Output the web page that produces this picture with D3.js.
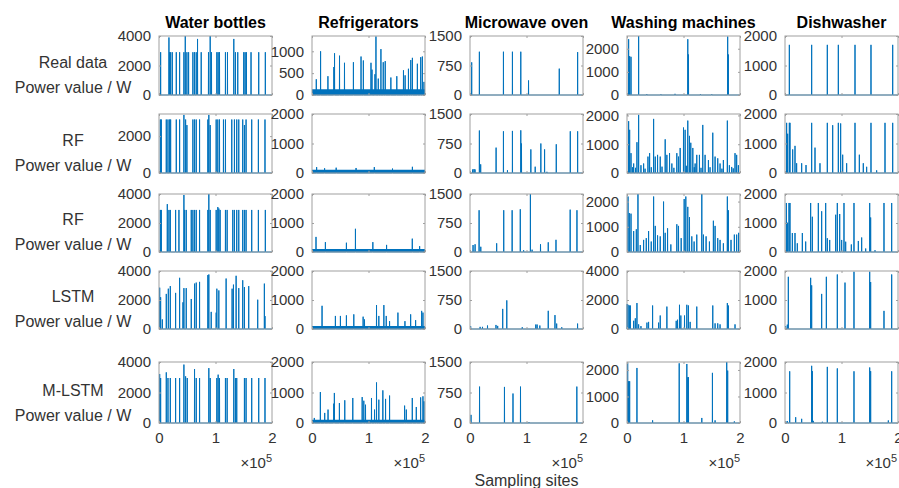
<!DOCTYPE html>
<html>
<head>
<meta charset="utf-8">
<script src="https://cdn.jsdelivr.net/npm/d3@7"></script>
<style>
  body { margin: 0; background: #fff; }
  text { font-family: "Liberation Sans", Arial, Helvetica, sans-serif; }
</style>
</head>
<body>
<div id="chart"></div>
<script>
// data: appliances (columns) and models (rows)
const APPLIANCES = ['Water bottles', 'Refrigerators', 'Microwave oven', 'Washing machines', 'Dishwasher'];
const MODELS = ['Real data', 'RF', 'RF', 'LSTM', 'M-LSTM'];
const X_TICKS = [0, 1, 2];   // sampling sites, x 10^5

// y axis upper limit per row / column
const Y_MAX = [
  [4000, 1350, 1500, 2550, 2000],
  [3200, 2000, 1500, 2050, 2000],
  [4000, 2000, 1500, 2300, 2000],
  [4000, 2000, 1500, 4000, 2000],
  [4000, 2000, 1500, 2300, 2000]
];
const Y_TICKS = [
  [[0, 2000, 4000], [0, 500, 1000], [0, 750, 1500], [0, 1000, 2000], [0, 1000, 2000]],
  [[0, 2000], [0, 1000, 2000], [0, 750, 1500], [0, 1000, 2000], [0, 1000, 2000]],
  [[0, 2000, 4000], [0, 1000, 2000], [0, 750, 1500], [0, 1000, 2000], [0, 1000, 2000]],
  [[0, 2000, 4000], [0, 1000, 2000], [0, 750, 1500], [0, 2000, 4000], [0, 1000, 2000]],
  [[0, 2000, 4000], [0, 1000, 2000], [0, 750, 1500], [0, 1000, 2000], [0, 1000, 2000]]
];
// dense standby level (refrigerator compressor band)
const BASE_LEVEL = [
  [0, 130, 0, 0, 0],
  [0, 110, 0, 0, 0],
  [0, 100, 0, 0, 0],
  [0, 100, 0, 0, 0],
  [0, 110, 0, 0, 0]
];

// spikes: [site x 10^5, power W]
const REAL_DATA = [
  [[0.029,2900],[0.176,3900],[0.188,2900],[0.206,2900],[0.235,2900],[0.306,2900],[0.365,2900],[0.441,2900],[0.465,4000],[0.494,2900],[0.524,2900],[0.6,2900],[0.629,2900],[0.659,2900],[0.682,3800],[0.747,2900],[0.876,2900],[0.906,4000],[0.929,2900],[1.024,2900],[1.047,2900],[1.071,2900],[1.176,2900],[1.212,2900],[1.324,3800],[1.353,2900],[1.394,2900],[1.5,2900],[1.524,2900],[1.547,2900],[1.629,2900],[1.765,2900],[1.882,2900]],
  [[0.076,360],[0.152,1000],[0.282,430],[0.387,640],[0.399,955],[0.487,900],[0.575,737],[0.733,750],[0.868,880],[0.909,790],[1.044,737],[1.062,580],[1.114,475],[1.132,1340],[1.173,375],[1.22,1050],[1.261,750],[1.296,775],[1.396,400],[1.501,430],[1.619,565],[1.648,450],[1.707,600],[1.748,800],[1.777,850],[1.865,715],[1.924,865],[1.953,880],[1.982,300]],
  [[0.03,830],[0.166,1100],[0.592,1100],[0.751,1100],[0.899,1100],[1.036,370],[1.58,670],[1.905,1090]],
  [[0.029,2410],[0.047,1680],[0.071,1650],[0.206,2550],[0.35,40],[0.6,30],[0.85,50],[1.076,2410],[1.088,1750],[1.3,40],[1.5,30],[1.782,2525],[1.794,1750]],
  [[0.077,1700],[0.472,1700],[0.749,1700],[0.944,1700],[1.239,1700],[1.522,1700],[1.906,1700]]
];
const RF_A = [
  [[0.024,2900],[0.041,2900],[0.129,2900],[0.159,2900],[0.188,2900],[0.206,2900],[0.306,2900],[0.365,2900],[0.441,3150],[0.471,2900],[0.494,2600],[0.6,2900],[0.629,2900],[0.659,2900],[0.718,2900],[0.865,2900],[0.882,3150],[0.906,2600],[1.012,2900],[1.041,2900],[1.071,2900],[1.141,2900],[1.176,2900],[1.288,2900],[1.335,2900],[1.376,2900],[1.412,2900],[1.482,2900],[1.512,2600],[1.541,2900],[1.641,2900],[1.759,2900],[1.876,2900]],
  [[0.082,200],[0.223,160],[0.428,180],[0.78,170],[1.103,200],[1.425,150],[1.777,210]],
  [[0.047,90],[0.071,100],[0.089,90],[0.166,1080],[0.189,220],[0.462,645],[0.592,1060],[0.663,70],[0.751,1070],[0.899,1085],[0.911,750],[1.077,600],[1.154,160],[1.254,750],[1.32,600],[1.361,30],[1.527,730],[1.775,1060],[1.905,1060]],
  [[0.029,1800],[0.047,1500],[0.071,690],[0.1,200],[0.118,330],[0.15,180],[0.176,1070],[0.206,2020],[0.247,270],[0.294,330],[0.32,150],[0.371,570],[0.4,690],[0.43,200],[0.471,1880],[0.5,570],[0.541,630],[0.588,570],[0.62,220],[0.676,1170],[0.706,630],[0.753,690],[0.794,330],[0.83,180],[0.882,690],[0.912,570],[0.941,870],[1.0,1580],[1.029,1500],[1.05,250],[1.076,1820],[1.106,1290],[1.129,1050],[1.165,870],[1.19,200],[1.206,330],[1.235,630],[1.282,630],[1.31,180],[1.341,1670],[1.382,630],[1.441,450],[1.47,200],[1.518,1400],[1.559,570],[1.606,510],[1.647,330],[1.68,150],[1.706,450],[1.776,1820],[1.812,270],[1.853,210],[1.88,160],[1.912,690],[1.941,630],[1.971,270]],
  [[0.029,1700],[0.047,1330],[0.077,1700],[0.088,1700],[0.136,800],[0.177,920],[0.206,330],[0.295,330],[0.372,270],[0.472,1700],[0.531,860],[0.619,330],[0.749,1700],[0.844,1620],[0.944,1700],[0.985,1680],[1.021,620],[1.091,330],[1.239,1700],[1.316,620],[1.386,330],[1.445,210],[1.522,1700],[1.622,90],[1.77,1700],[1.906,1700]]
];
const RF_B = [
  [[0.024,2900],[0.041,2900],[0.147,3300],[0.176,2900],[0.2,2900],[0.294,2900],[0.353,2900],[0.441,3930],[0.453,2900],[0.482,2900],[0.571,2900],[0.6,2900],[0.629,2900],[0.659,2900],[0.718,2900],[0.865,2900],[0.882,4000],[0.906,2900],[1.012,2900],[1.041,3100],[1.059,3000],[1.082,2900],[1.176,2900],[1.206,2900],[1.306,2900],[1.335,2900],[1.376,2900],[1.412,2900],[1.482,2900],[1.512,2900],[1.541,2900],[1.641,2900],[1.759,2900],[1.882,2900]],
  [[0.071,520],[0.237,340],[0.609,320],[0.769,800],[1.077,340],[1.32,245],[1.775,460],[1.905,200]],
  [[0.054,180],[0.09,200],[0.161,1080],[0.191,135],[0.472,225],[0.597,1080],[0.746,1080],[0.89,1105],[0.949,45],[1.069,1500],[1.099,60],[1.248,200],[1.385,250],[1.522,315],[1.773,1095],[1.893,1080]],
  [[0.018,2200],[0.041,1545],[0.071,1520],[0.118,830],[0.165,900],[0.194,2300],[0.235,275],[0.294,480],[0.341,550],[0.382,830],[0.429,415],[0.471,2200],[0.5,1035],[0.541,660],[0.588,620],[0.647,2000],[0.676,760],[0.718,940],[0.776,300],[0.882,1100],[0.912,1035],[0.959,550],[1.012,2100],[1.041,2200],[1.076,1790],[1.106,1380],[1.147,620],[1.188,415],[1.235,690],[1.324,2300],[1.353,690],[1.4,620],[1.459,415],[1.529,1240],[1.559,1035],[1.606,550],[1.647,480],[1.706,345],[1.776,2200],[1.794,1655],[1.841,480],[1.9,690],[1.941,690],[1.976,760]],
  [[0.024,1690],[0.047,1010],[0.071,1690],[0.088,1690],[0.13,655],[0.177,655],[0.218,300],[0.307,655],[0.366,360],[0.454,1690],[0.484,1215],[0.59,1690],[0.649,1405],[0.72,1690],[0.749,475],[0.791,415],[0.897,1285],[0.926,1690],[0.968,1310],[1.003,415],[1.044,1690],[1.074,355],[1.174,260],[1.221,1690],[1.298,380],[1.357,500],[1.428,120],[1.499,1690],[1.516,1190],[1.593,60],[1.752,1690],[1.888,1690]]
];
const LSTM = [
  [[0.012,2850],[0.029,2190],[0.059,660],[0.129,2420],[0.165,2780],[0.2,2960],[0.294,2490],[0.365,3530],[0.424,1840],[0.441,2820],[0.482,2820],[0.571,2070],[0.629,3130],[0.659,3200],[0.718,3250],[0.865,3720],[0.882,3760],[0.924,1180],[1.012,1130],[1.024,2780],[1.059,2660],[1.188,3480],[1.294,2780],[1.318,3060],[1.365,3670],[1.412,2820],[1.482,3360],[1.512,2890],[1.588,2960],[1.747,2020],[1.865,3130],[1.876,890]],
  [[0.178,800],[0.414,450],[0.503,450],[0.609,470],[0.74,505],[0.905,425],[0.929,330],[1.142,825],[1.183,450],[1.272,825],[1.314,450],[1.373,270],[1.521,565],[1.645,270],[1.746,505],[1.834,305],[1.941,625],[1.964,565]],
  [[0.012,70],[0.179,55],[0.221,55],[0.31,90],[0.46,105],[0.49,80],[0.579,520],[0.651,740],[0.925,45],[1.164,115],[1.188,115],[1.236,90],[1.385,470],[1.504,360],[1.534,140],[1.624,45],[1.904,140]],
  [[0.003,1720],[0.018,1670],[0.041,1620],[0.059,1620],[0.118,565],[0.147,735],[0.176,1790],[0.206,320],[0.247,200],[0.353,440],[0.382,490],[0.453,1620],[0.559,440],[0.588,930],[0.706,1545],[0.871,565],[0.894,640],[0.929,1670],[0.953,930],[1.018,930],[1.059,1670],[1.088,1620],[1.118,490],[1.235,1545],[1.518,1620],[1.559,390],[1.606,390],[1.647,320],[1.776,1790],[1.794,1620],[1.912,320]],
  [[0.012,95],[0.041,150],[0.059,1800],[0.454,1765],[0.472,1505],[0.649,1210],[0.732,1800],[0.926,1880],[1.062,1600],[1.221,1975],[1.499,1975],[1.516,1620],[1.752,625],[1.888,1880]]
];
const M_LSTM = [
  [[0.012,3210],[0.029,2950],[0.129,3320],[0.159,2950],[0.2,2950],[0.294,2950],[0.365,2950],[0.441,3830],[0.471,3060],[0.5,2950],[0.629,3540],[0.659,2950],[0.718,2950],[0.882,3600],[0.906,2950],[1.024,2950],[1.047,3170],[1.071,2950],[1.176,2950],[1.206,2950],[1.324,3540],[1.353,2950],[1.376,2950],[1.512,2950],[1.541,2950],[1.641,2950],[1.765,2950],[1.876,2950]],
  [[0.041,165],[0.148,1015],[0.225,330],[0.284,440],[0.385,635],[0.396,985],[0.485,655],[0.58,745],[0.722,820],[0.888,850],[0.917,730],[0.947,600],[1.053,820],[1.107,440],[1.142,1330],[1.183,765],[1.254,1070],[1.302,790],[1.373,900],[1.639,570],[1.669,440],[1.775,820],[1.846,525],[1.923,840],[1.964,875],[1.982,710]],
  [[0.018,200],[0.169,895],[0.61,887],[0.761,725],[0.894,895],[1.045,20],[1.891,895]],
  [[0.012,2290],[0.029,1575],[0.047,1575],[0.176,2075],[0.453,100],[0.924,2250],[1.059,2225],[1.076,1725],[1.088,1725],[1.324,190],[1.512,1890],[1.559,100],[1.765,2300],[1.782,1975],[1.9,60]],
  [[0.012,65],[0.041,65],[0.083,1695],[0.189,190],[0.295,137],[0.472,1875],[0.484,1700],[0.501,70],[0.661,40],[0.749,1840],[0.926,1790],[1.221,1695],[1.499,1820],[1.516,1700],[1.829,84],[1.888,1695]]
];
const SERIES = [REAL_DATA, RF_A, RF_B, LSTM, M_LSTM];

// layout
const FRAME_WIDTH = 899;
const FRAME_HEIGHT = 488;
const COL_X = [159, 312, 470, 627, 785];
const PANEL_W = 113;
const ROW_Y = [36, 114, 194, 271, 362];
const ROW_H = [59, 59, 58, 58, 61];
const LINE_COLOR = '#0072BD';
const BOX_COLOR = '#a0a0a0';
const TEXT_COLOR = '#333';
const HALF = 0.002;   // half width of one spike, x 10^5

let SVG = d3.select('#chart')
            .append('svg')
            .attr('width', FRAME_WIDTH)
            .attr('height', FRAME_HEIGHT);

// column titles
APPLIANCES.forEach((name, c) => {
  SVG.append('text')
     .attr('x', COL_X[c] + PANEL_W / 2)
     .attr('y', 28)
     .attr('text-anchor', 'middle')
     .attr('font-size', '16px')
     .attr('font-weight', 'bold')
     .attr('fill', '#000')
     .text(name);
});

// row labels
MODELS.forEach((name, r) => {
  SVG.append('text')
     .attr('x', 73)
     .attr('y', ROW_Y[r] + ROW_H[r] - 27)
     .attr('text-anchor', 'middle')
     .attr('font-size', '16px')
     .attr('fill', TEXT_COLOR)
     .text(name);
  SVG.append('text')
     .attr('x', 73)
     .attr('y', ROW_Y[r] + ROW_H[r] - 2)
     .attr('text-anchor', 'middle')
     .attr('font-size', '16px')
     .attr('fill', TEXT_COLOR)
     .text('Power value / W');
});

for (let r = 0; r < 5; r++) {
  for (let c = 0; c < 5; c++) {
    let x0 = COL_X[c], y0 = ROW_Y[r], h = ROW_H[r];
    let xScale = d3.scaleLinear().domain([0, 2]).range([x0, x0 + PANEL_W]);
    let yScale = d3.scaleLinear().domain([0, Y_MAX[r][c]]).range([y0 + h, y0]);
    let g = SVG.append('g');

    // dense standby band
    if (BASE_LEVEL[r][c] > 0) {
      g.append('path')
       .datum([[0, BASE_LEVEL[r][c]], [2, BASE_LEVEL[r][c]]])
       .attr('d', d3.area().x(d => xScale(d[0])).y0(yScale(0)).y1(d => yScale(d[1])))
       .attr('fill', LINE_COLOR);
    }

    // spikes drawn as one line series along the baseline
    let pts = [[0, 0]];
    SERIES[r][c].slice().sort((a, b) => a[0] - b[0]).forEach(d => {
      pts.push([d[0] - HALF, 0], [d[0], d[1]], [d[0] + HALF, 0]);
    });
    pts.push([2, 0]);
    g.append('path')
     .datum(pts)
     .attr('d', d3.line().x(d => xScale(d[0])).y(d => yScale(d[1])))
     .attr('fill', 'none')
     .attr('stroke', LINE_COLOR)
     .attr('stroke-width', 1)
     .attr('stroke-linejoin', 'miter');

    // box with inner ticks on every side
    g.append('rect')
     .attr('x', x0).attr('y', y0)
     .attr('width', PANEL_W).attr('height', h)
     .attr('fill', 'none')
     .attr('stroke', BOX_COLOR)
     .attr('stroke-width', 1);

    g.append('g').attr('transform', 'translate(' + x0 + ',0)')
     .call(d3.axisLeft(yScale).tickValues(Y_TICKS[r][c]).tickSizeInner(-2).tickSizeOuter(0)
     .tickPadding(8).tickFormat(d3.format('d')));
    g.append('g').attr('transform', 'translate(' + (x0 + PANEL_W) + ',0)')
     .call(d3.axisRight(yScale).tickValues(Y_TICKS[r][c]).tickSizeInner(-2).tickSizeOuter(0).tickFormat(''));
    g.append('g').attr('transform', 'translate(0,' + (y0 + h) + ')')
     .call(d3.axisBottom(xScale).tickValues(X_TICKS).tickSizeInner(-2).tickSizeOuter(0).tickPadding(9)
     .tickFormat(r === 4 ? d3.format('d') : ''));
    g.append('g').attr('transform', 'translate(0,' + y0 + ')')
     .call(d3.axisTop(xScale).tickValues(X_TICKS).tickSizeInner(-2).tickSizeOuter(0).tickFormat(''));

    g.selectAll('.domain').remove();
    g.selectAll('.tick line').attr('stroke', BOX_COLOR);
    g.selectAll('.tick text')
     .attr('font-size', '15px')
     .attr('font-family', '"Liberation Sans", Arial, sans-serif')
     .attr('fill', TEXT_COLOR);

    // exponent label under bottom row
    if (r === 4) {
      let t = SVG.append('text')
                 .attr('x', Math.min(x0 + PANEL_W, FRAME_WIDTH - 2))
                 .attr('y', 468)
                 .attr('text-anchor', 'end')
                 .attr('font-size', '15px')
                 .attr('fill', TEXT_COLOR);
      t.append('tspan').text('\u00d710');
      t.append('tspan').attr('dy', -6).attr('font-size', '11px').text('5');
    }
  }
}

// x axis title
SVG.append('text')
   .attr('x', COL_X[2] + PANEL_W / 2)
   .attr('y', 486)
   .attr('text-anchor', 'middle')
   .attr('font-size', '16px')
   .attr('fill', TEXT_COLOR)
   .text('Sampling sites');
</script>
</body>
</html>
